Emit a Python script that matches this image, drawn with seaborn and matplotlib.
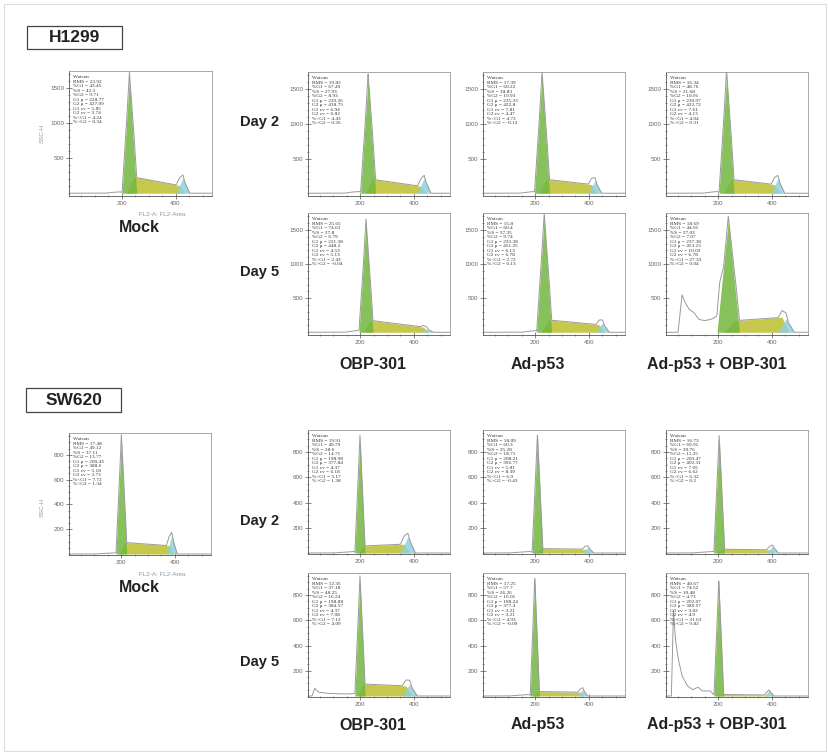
import matplotlib
matplotlib.use("Agg")
import matplotlib.pyplot as plt
from matplotlib.patches import Rectangle
from matplotlib.ticker import MultipleLocator
import seaborn as sns
import numpy as np

# ---- data ----
cell_lines = ['H1299', 'SW620']
treatments = ['OBP-301', 'Ad-p53', 'Ad-p53 + OBP-301']
days = ['Day 2', 'Day 5']
# panel order: Mock, D2 OBP, D2 Ad, D2 combo, D5 OBP, D5 Ad, D5 combo
stat_keys = ['RMS', '%G1', '%S', '%G2', 'G1 μ', 'G2 μ', 'G1 cv', 'G2 cv', '%<G1', '%>G2']

h1299_stats = [
    [23.92, 43.45, 42.3, 9.71, 228.77, 427.09, 5.85, 3.74, 4.24, 0.34],
    [19.82, 67.49, 27.93, 8.93, 229.26, 438.75, 6.94, 6.82, 4.43, 0.26],
    [17.39, 60.22, 38.83, 10.93, 225.33, 422.8, 7.81, 4.47, 4.72, -0.12],
    [16.34, 48.76, 21.68, 10.91, 230.97, 422.72, 7.61, 4.13, 4.04, 0.31],
    [25.65, 74.63, 27.8, 6.79, 221.38, 448.2, 4.53, 5.13, 2.43, -0.04],
    [15.8, 60.4, 37.35, 9.74, 233.38, 451.25, 6.13, 6.78, 2.72, 0.13],
    [18.69, 44.91, 27.03, 7.07, 237.38, 453.23, 10.03, 6.78, 27.33, 0.04],
]
sw620_stats = [
    [17.48, 49.12, 37.11, 13.77, 200.43, 388.6, 5.18, 3.73, 7.72, 1.34],
    [19.91, 49.79, 28.6, 14.71, 198.98, 377.84, 4.37, 6.18, 3.17, 1.38],
    [18.09, 60.3, 25.28, 18.71, 208.21, 396.77, 5.81, 8.39, 6.9, -0.43],
    [16.73, 69.91, 20.76, 11.25, 203.47, 402.31, 7.05, 6.62, 6.32, 0.2],
    [12.35, 37.18, 48.25, 16.24, 198.88, 384.57, 4.37, 7.08, 7.12, 4.09],
    [17.25, 57.7, 26.26, 16.01, 198.24, 377.4, 3.21, 3.21, 4.93, -0.09],
    [40.67, 74.52, 10.48, 4.73, 202.07, 389.57, 3.02, 4.9, 31.63, 9.82],
]

# histogram shape (FL2-A units / counts)
h1299_g1_peak = [1650, 1650, 1680, 1700, 1600, 1680, 1640]
h1299_g1_hw = [27, 28, 28, 28, 26, 28, 42]
h1299_s_left = [230, 200, 200, 200, 175, 180, 170]
h1299_s_right = [110, 100, 125, 125, 75, 110, 220]
h1299_g2_peak = [220, 220, 180, 210, 50, 140, 200]
h1299_g2_hw = [25, 25, 25, 25, 25, 25, 30]
h1299_debris_x = [[140, 165, 195, 210], [140, 165, 195, 210], [140, 170, 195, 205], [140, 170, 195, 210],
                  [140, 170, 195, 205], [150, 175, 200, 215],
                  [50, 65, 77, 91, 109, 127, 149, 174, 192, 205, 220]]
h1299_debris_y = [[0, 12, 20, 0], [0, 15, 25, 0], [0, 15, 25, 0], [0, 15, 25, 0],
                  [0, 15, 30, 0], [0, 15, 25, 0],
                  [0, 550, 430, 340, 290, 190, 170, 190, 230, 350, 0]]

sw620_g1_peak = [928, 912, 930, 920, 920, 930, 910]
sw620_g1_hw = [20, 19, 20, 20, 19, 17, 18]
sw620_s_left = [93, 55, 35, 30, 95, 35, 12]
sw620_s_right = [67, 70, 30, 25, 80, 30, 8]
sw620_g2_peak = [150, 130, 45, 55, 95, 55, 45]
sw620_g2_hw = [20, 28, 22, 22, 28, 18, 18]
sw620_debris_x = [[100, 150, 180, 190], [100, 150, 175, 185], [100, 150, 180, 195], [100, 150, 180, 190],
                  [20, 30, 45, 80, 150, 180, 190],
                  [100, 150, 175, 185],
                  [25, 33, 40, 50, 65, 85, 105, 125, 140, 170, 188]]
sw620_debris_y = [[0, 6, 10, 0], [0, 8, 12, 0], [0, 8, 12, 0], [0, 8, 12, 0],
                  [0, 60, 30, 20, 15, 20, 0],
                  [0, 8, 12, 0],
                  [0, 680, 450, 300, 160, 80, 50, 70, 40, 40, 0]]

W, H = 829, 754
GREEN, YELLOW, BLUE, OUTLINE = '#72b63e', '#c6c84e', '#8ed0de', '#9a9a9a'

sns.set_theme(style="ticks")
plt.rcParams['font.family'] = ['Liberation Sans', 'DejaVu Sans']

fig = plt.figure(figsize=(W / 100, H / 100), dpi=100)


def add_ax(l, t, r, b):
    return fig.add_axes([l / W, 1 - b / H, (r - l) / W, (b - t) / H])


def ftext(px, py, s, **kw):
    fig.text(px / W, 1 - py / H, s, ha='center', va='center', **kw)


def draw_panel(ax, i, stats, g1_peak, g1_hw, s_left, s_right, g2_peak, g2_hw,
               deb_x, deb_y, ylim, ymajor, yminor):
    mu, g2mu = stats[i][4], stats[i][5]
    hw, g2hw = g1_hw[i], g2_hw[i]
    x = np.linspace(0, 540, 1081)
    g1 = np.interp(x, [mu - hw, mu, mu + hw], [0, g1_peak[i], 0])
    s = np.interp(x, [mu - 0.4 * hw, mu + 0.6 * hw, g2mu - 0.5 * g2hw, g2mu + 0.3 * g2hw],
                  [0, s_left[i], s_right[i], 0])
    g2 = np.interp(x, [g2mu - g2hw, g2mu, g2mu + g2hw], [0, g2_peak[i], 0])
    deb = np.interp(x, deb_x[i], deb_y[i], left=0, right=0)
    total = g1 + s + g2 + deb

    ax.fill_between(x, s, color=YELLOW, lw=0)
    ax.fill_between(x, g1, color=GREEN, alpha=0.85, lw=0)
    ax.fill_between(x, g2, color=BLUE, alpha=0.85, lw=0)
    sns.lineplot(x=x, y=total, ax=ax, color=OUTLINE, lw=0.7)

    ax.set_xlim(5, 535)
    ax.set_ylim(*ylim)
    ax.set_xticks([200, 400])
    ax.set_yticks(ymajor)
    ax.xaxis.set_minor_locator(MultipleLocator(50))
    ax.yaxis.set_minor_locator(MultipleLocator(yminor))
    ax.tick_params(which='major', direction='inout', length=4, width=0.5, color='#555',
                   labelsize=4.5, labelcolor='#666', pad=1.5)
    ax.tick_params(which='minor', direction='inout', length=2, width=0.4, color='#555')
    ax.set_xlabel('')
    ax.set_ylabel('')
    for side in ['left', 'bottom']:
        ax.spines[side].set_color('#555')
        ax.spines[side].set_linewidth(0.6)
    for side in ['top', 'right']:
        ax.spines[side].set_color('#999')
        ax.spines[side].set_linewidth(0.6)
    lines = ['Watson'] + [f"{k} = {v:g}" for k, v in zip(stat_keys, stats[i])]
    ax.text(0.03, 0.965, '\n'.join(lines), transform=ax.transAxes, ha='left', va='top',
            fontsize=3.8, linespacing=1.16, color='#333',
            family=['Liberation Serif', 'DejaVu Serif'])


# figure frame
fig.add_artist(Rectangle((4 / W, 1 - 751 / H), 822 / W, 747 / H, transform=fig.transFigure,
                         fill=False, edgecolor='#dddddd', lw=0.8))

col_x = [(308, 450), (483, 625), (666, 808)]
label_shift = [-6, -16, -20]
sections = [
    dict(name='H1299', box=(27, 26, 122, 49), mock=(69, 71, 212, 196),
         rows=[(72, 196), (213, 335)], day_y=[122, 272], bottom_y=365, mock_y=227,
         fl2_y=215, ssc_y=133, stats=h1299_stats, g1_peak=h1299_g1_peak, g1_hw=h1299_g1_hw,
         s_left=h1299_s_left, s_right=h1299_s_right, g2_peak=h1299_g2_peak,
         g2_hw=h1299_g2_hw, deb_x=h1299_debris_x, deb_y=h1299_debris_y,
         ylim=(-40, 1750), ymajor=[500, 1000, 1500], yminor=100),
    dict(name='SW620', box=(26, 388, 121, 412), mock=(69, 433, 211, 555),
         rows=[(430, 554), (573, 697)], day_y=[521, 662], bottom_y=725, mock_y=587,
         fl2_y=575, ssc_y=507, stats=sw620_stats, g1_peak=sw620_g1_peak, g1_hw=sw620_g1_hw,
         s_left=sw620_s_left, s_right=sw620_s_right, g2_peak=sw620_g2_peak,
         g2_hw=sw620_g2_hw, deb_x=sw620_debris_x, deb_y=sw620_debris_y,
         ylim=(-8, 975), ymajor=[200, 400, 600, 800], yminor=50),
]

for sec in sections:
    args = (sec['stats'], sec['g1_peak'], sec['g1_hw'], sec['s_left'], sec['s_right'],
            sec['g2_peak'], sec['g2_hw'], sec['deb_x'], sec['deb_y'],
            sec['ylim'], sec['ymajor'], sec['yminor'])
    # cell line label box
    l, t, r, b = sec['box']
    fig.add_artist(Rectangle((l / W, 1 - b / H), (r - l) / W, (b - t) / H,
                             transform=fig.transFigure, fill=False, edgecolor='#444', lw=0.9))
    ftext((l + r) / 2, (t + b) / 2 + 0.5, sec['name'], fontsize=12.5, fontweight='bold', color='#222')

    # mock panel
    ax = add_ax(*sec['mock'])
    draw_panel(ax, 0, *args)
    ftext(162, sec['fl2_y'], 'FL2-A: FL2-Area', fontsize=4.5, color='#8a9aa8')
    ftext(42, sec['ssc_y'], 'SSC-H', fontsize=4.5, color='#8a9aa8', rotation=90)
    ftext(139, sec['mock_y'], 'Mock', fontsize=11.5, fontweight='bold', color='#222')

    # treatment panels
    for ri, (t, b) in enumerate(sec['rows']):
        ftext(260, sec['day_y'][ri], days[ri], fontsize=10.5, fontweight='bold', color='#222')
        for ci, (l, r) in enumerate(col_x):
            ax = add_ax(l, t, r, b)
            draw_panel(ax, 1 + ri * 3 + ci, *args)
    for ci, (l, r) in enumerate(col_x):
        ftext((l + r) / 2 + label_shift[ci], sec['bottom_y'], treatments[ci],
              fontsize=11.5, fontweight='bold', color='#222')

fig.savefig('out.png', dpi=100, facecolor='white')
